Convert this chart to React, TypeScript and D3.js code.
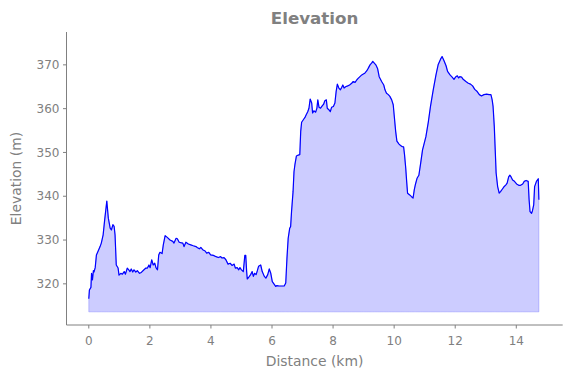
import React from "react";
import * as d3 from "d3";

const distanceKm: number[] = [
  0.0, 0.02, 0.07, 0.09, 0.12, 0.15, 0.17, 0.21, 0.25, 0.3, 0.37, 0.41, 0.47, 0.52, 0.59, 0.64, 0.7, 0.74, 0.79, 0.83,
  0.86, 0.9, 0.96, 0.99, 1.05, 1.1, 1.16, 1.2, 1.26, 1.31, 1.35, 1.39, 1.44, 1.48, 1.54, 1.59, 1.66, 1.72, 1.79, 1.87,
  1.92, 1.97, 2.01, 2.06, 2.11, 2.16, 2.2, 2.25, 2.29, 2.33, 2.4, 2.44, 2.5, 2.57, 2.66, 2.75, 2.79, 2.86, 2.9, 2.96,
  3.01, 3.08, 3.12, 3.18, 3.26, 3.34, 3.42, 3.51, 3.55, 3.62, 3.67, 3.73, 3.81, 3.86, 3.93, 3.99, 4.08, 4.17, 4.24, 4.32,
  4.36, 4.43, 4.49, 4.56, 4.63, 4.69, 4.76, 4.8, 4.86, 4.91, 4.95, 5.0, 5.06, 5.11, 5.14, 5.17, 5.19, 5.26, 5.3, 5.35,
  5.39, 5.43, 5.48, 5.52, 5.56, 5.63, 5.68, 5.75, 5.8, 5.86, 5.91, 5.96, 6.01, 6.08, 6.12, 6.16, 6.23, 6.32, 6.4, 6.45,
  6.49, 6.53, 6.58, 6.61, 6.64, 6.69, 6.72, 6.75, 6.8, 6.86, 6.91, 6.94, 6.97, 7.02, 7.08, 7.12, 7.17, 7.21, 7.25, 7.3,
  7.33, 7.37, 7.43, 7.47, 7.5, 7.54, 7.59, 7.65, 7.69, 7.73, 7.78, 7.81, 7.87, 7.91, 7.95, 8.01, 8.06, 8.1, 8.14, 8.19,
  8.24, 8.28, 8.32, 8.36, 8.41, 8.48, 8.54, 8.61, 8.66, 8.72, 8.78, 8.82, 8.88, 8.94, 8.99, 9.04, 9.1, 9.15, 9.21, 9.26,
  9.3, 9.35, 9.4, 9.46, 9.51, 9.59, 9.66, 9.7, 9.75, 9.81, 9.86, 9.92, 9.97, 10.0, 10.05, 10.09, 10.16, 10.21, 10.27, 10.31,
  10.34, 10.38, 10.41, 10.44, 10.51, 10.57, 10.62, 10.66, 10.7, 10.75, 10.81, 10.87, 10.93, 11.04, 11.12, 11.19, 11.28, 11.37, 11.44, 11.52,
  11.57, 11.63, 11.7, 11.75, 11.83, 11.9, 11.96, 12.01, 12.07, 12.11, 12.15, 12.21, 12.26, 12.35, 12.43, 12.5, 12.57, 12.64, 12.72, 12.79,
  12.86, 12.94, 13.03, 13.11, 13.17, 13.21, 13.24, 13.28, 13.31, 13.34, 13.39, 13.44, 13.49, 13.54, 13.59, 13.66, 13.7, 13.75, 13.79, 13.83,
  13.88, 13.94, 14.01, 14.08, 14.14, 14.21, 14.26, 14.32, 14.39, 14.42, 14.45, 14.5, 14.53, 14.57, 14.6, 14.66, 14.72, 14.74,
];

const elevationM: number[] = [
  316.6, 318.6, 319.2, 322.4, 320.9, 323.0, 322.7, 323.7, 326.6, 327.4, 328.5, 329.3, 331.2, 334.6, 338.9, 335.0, 332.7, 332.3, 333.5, 333.1,
  331.2, 324.3, 323.6, 322.0, 322.4, 322.2, 322.8, 322.2, 323.6, 323.2, 322.8, 323.4, 322.7, 323.2, 322.7, 323.0, 322.4, 322.6, 323.1, 323.6,
  323.6, 324.3, 323.7, 325.5, 324.3, 324.7, 323.7, 323.2, 326.6, 327.2, 326.9, 328.9, 331.0, 330.6, 330.0, 329.7, 329.3, 330.4, 330.3, 329.5,
  329.4, 329.3, 328.5, 329.5, 329.1, 328.9, 328.7, 328.5, 328.3, 328.0, 328.3, 327.8, 327.5, 327.0, 327.2, 326.6, 326.5, 326.2, 326.0, 326.2,
  325.9, 326.0, 325.5, 324.5, 324.7, 324.2, 324.5, 323.6, 323.7, 323.2, 323.7, 323.2, 322.8, 326.5, 326.5, 322.8, 321.1, 321.7, 322.1, 322.8,
  321.7, 322.4, 322.1, 323.0, 324.0, 324.3, 322.8, 321.7, 321.3, 322.1, 323.4, 322.4, 320.5, 319.8, 319.4, 319.6, 319.5, 319.5, 319.5, 320.2,
  325.9, 330.4, 332.7, 333.1, 336.5, 341.1, 345.6, 347.2, 349.2, 349.4, 349.5, 354.8, 356.9, 357.4, 358.0, 358.6, 359.3, 360.1, 362.2, 361.3,
  359.0, 359.5, 359.2, 360.1, 362.0, 360.3, 360.1, 360.7, 361.0, 361.8, 362.0, 360.1, 359.7, 359.3, 360.3, 360.5, 361.3, 363.9, 365.6, 364.7,
  364.3, 364.8, 365.4, 364.7, 365.0, 365.2, 365.4, 365.8, 366.2, 366.0, 366.6, 366.9, 367.3, 367.7, 367.9, 368.1, 368.6, 369.2, 370.0, 370.4,
  370.8, 370.4, 370.0, 369.1, 367.3, 366.2, 365.4, 364.3, 363.5, 363.2, 362.8, 362.0, 360.9, 358.6, 354.8, 352.6, 351.9, 351.6, 351.3, 351.3,
  349.5, 346.4, 343.4, 340.7, 340.3, 339.9, 339.6, 341.5, 342.8, 344.1, 344.8, 347.6, 350.6, 353.6, 357.0, 360.5, 364.3, 367.7, 370.0, 371.3,
  371.9, 371.0, 369.8, 368.5, 367.7, 367.2, 366.7, 367.2, 367.5, 367.0, 367.3, 367.2, 366.7, 366.2, 365.8, 365.6, 365.2, 364.4, 363.9, 363.2,
  362.9, 363.2, 363.3, 363.2, 363.2, 362.0, 360.5, 355.9, 350.6, 345.3, 342.2, 340.7, 341.1, 341.6, 342.1, 342.6, 343.0, 344.4, 344.8, 344.4,
  343.7, 343.4, 342.8, 342.5, 342.5, 342.8, 343.4, 343.6, 343.4, 339.2, 336.5, 336.1, 336.7, 338.0, 342.2, 343.4, 344.0, 339.2,
];

const xTicks: number[] = [0, 2, 4, 6, 8, 10, 12, 14];
const yTicks: number[] = [320, 330, 340, 350, 360, 370];
const fillBase = 313.6;

const W = 571;
const H = 378;
const L = 66.5;
const R = 562.7;
const T = 32;
const B = 325;
const GRAY = "#808080";
const FONT = "'DejaVu Sans', sans-serif";

export default function App() {
  const x = d3.scaleLinear().domain([-0.73, 15.52]).range([L, R]);
  const y = d3.scaleLinear().domain([310.6, 377.5]).range([B, T]);
  const pts = distanceKm.map((d, i) => [d, elevationM[i]] as [number, number]);

  const area = d3
    .area<[number, number]>()
    .x((p) => x(p[0]))
    .y0(() => y(fillBase))
    .y1((p) => y(p[1]));
  const line = d3
    .line<[number, number]>()
    .x((p) => x(p[0]))
    .y((p) => y(p[1]));

  return (
    <svg
      width={W}
      height={H}
      style={{ position: "absolute", left: 0, top: 0, background: "#fff" }}
      fontFamily={FONT}
    >
      <rect width={W} height={H} fill="#fff" />
      <path d={area(pts) ?? ""} fill="rgba(0,0,255,0.2)" stroke="rgba(0,0,255,0.2)" strokeWidth={1} />
      <path d={line(pts) ?? ""} fill="none" stroke="#0000ff" strokeWidth={1.2} strokeLinejoin="round" />

      <line x1={L} x2={L} y1={T} y2={B} stroke={GRAY} strokeWidth={1} />
      <line x1={L} x2={R} y1={B} y2={B} stroke={GRAY} strokeWidth={1} />

      {yTicks.map((t) => (
        <g key={"y" + t}>
          <line x1={L - 3.5} x2={L} y1={y(t)} y2={y(t)} stroke={GRAY} strokeWidth={1} />
          <text x={L - 7} y={y(t)} dy="0.35em" textAnchor="end" fontSize={12} fill={GRAY}>
            {t}
          </text>
        </g>
      ))}
      {xTicks.map((t) => (
        <g key={"x" + t}>
          <line x1={x(t)} x2={x(t)} y1={B} y2={B + 3.5} stroke={GRAY} strokeWidth={1} />
          <text x={x(t)} y={B + 16} dy="0.35em" textAnchor="middle" fontSize={12} fill={GRAY}>
            {t}
          </text>
        </g>
      ))}

      <text x={(L + R) / 2} y={361} dy="0.35em" textAnchor="middle" fontSize={13.9} fill={GRAY}>
        Distance (km)
      </text>
      <text
        transform={`translate(16,${(T + B) / 2}) rotate(-90)`}
        dy="0.35em"
        textAnchor="middle"
        fontSize={13.9}
        fill={GRAY}
      >
        Elevation (m)
      </text>
      <text x={(L + R) / 2} y={18} dy="0.35em" textAnchor="middle" fontSize={16.7} fontWeight="bold" fill={GRAY}>
        Elevation
      </text>
    </svg>
  );
}
